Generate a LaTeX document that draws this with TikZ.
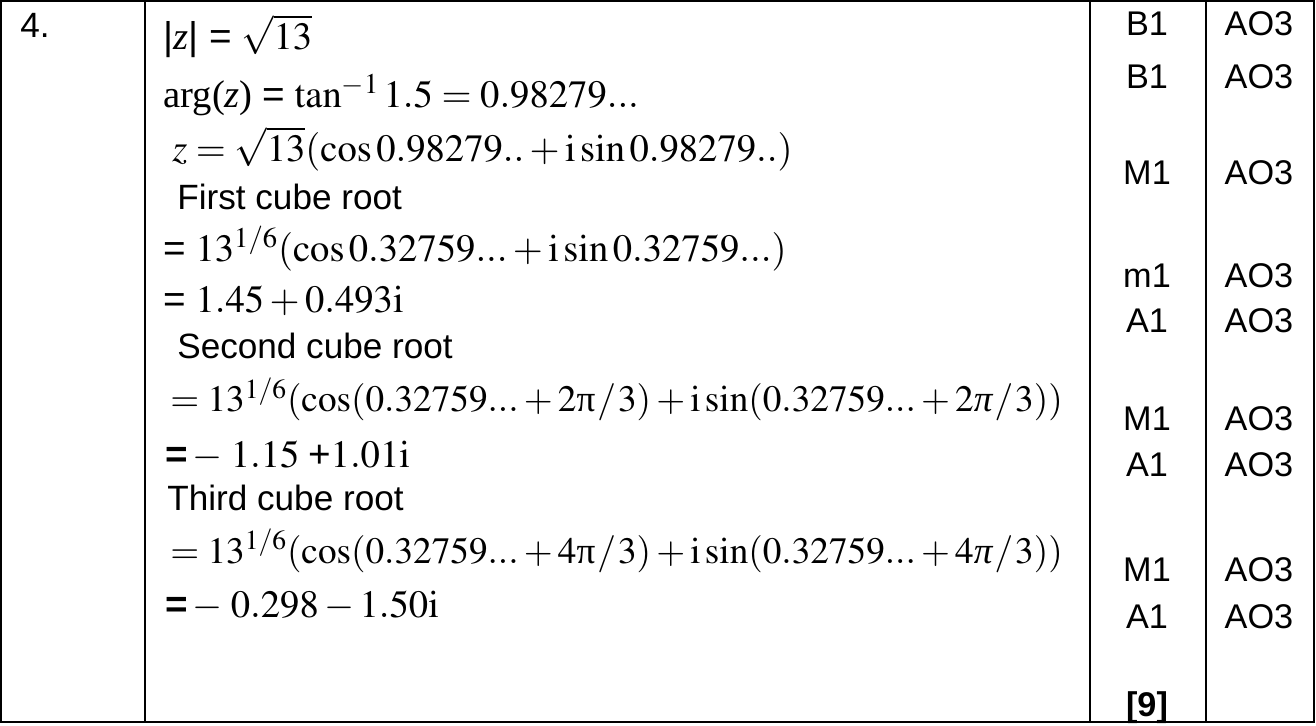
\documentclass[tikz,border=0pt]{standalone}
\usepackage{mathptmx}
\usepackage[no-math]{fontspec}
\setmainfont{Liberation Serif}
\newfontfamily\hv{Liberation Sans}
\usetikzlibrary{positioning}

\begin{document}
\begin{tikzpicture}[x=0.02cm,y=-0.02cm,
	mline/.style={anchor=base west,inner sep=0pt,font=\fontsize{22}{26}\selectfont},
	mlong/.style={mline,font=\fontsize{21.2}{25}\selectfont},
	sline/.style={anchor=base west,inner sep=0pt,font=\hv\fontsize{20}{24}\selectfont},
	markcell/.style={anchor=base,inner sep=0pt,font=\hv\fontsize{19.5}{23}\selectfont}]
	\useasboundingbox (0,0) rectangle (1316,726);
	\draw[line width=0.9pt] (1,1) rectangle (1314,722);
	\draw[line width=0.9pt] (145,1) -- (145,722);
	\draw[line width=0.8pt] (1090,1) -- (1090,722);
	\draw[line width=0.8pt] (1206,1) -- (1206,722);
	\node[sline] (qnum) at (20,38) {4.};
	\node[mline] (modz) at (163,50) {{\hv|}\textit{z}{\hv| =} $\sqrt{13}$};
	\node[mline] (argz) at (163,108) {arg(\textit{z}) {\hv=} $\tan^{-1}1.5=0.98279...$};
	\node[mline] (polar) at (172,162) {$z=\sqrt{13}(\cos 0.98279..+\mathrm{i}\sin 0.98279..)$};
	\node[sline] (first) at (177,210) {First cube root};
	\node[mline] (rootAa) at (163,262) {{\hv=} $13^{1/6}(\cos 0.32759...+\mathrm{i}\sin 0.32759...)$};
	\node[mline] (rootAb) at (163,313) {{\hv=} $1.45+0.493\mathrm{i}$};
	\node[sline] (second) at (177,358) {Second cube root};
	\node[mlong] (rootBa) at (170,412) {$=13^{1/6}(\cos(0.32759...+2\mbox{π}\mkern1mu/\mkern1mu3)+\mathrm{i}\sin(0.32759...+2\mbox{\itshape π}\mkern1mu/\mkern1mu3))$};
	\node[mline] (rootBb) at (165,467) {{\hv\bfseries=}$\,-\;1.15\;${\hv+}$1.01\mathrm{i}$};
	\node[sline] (third) at (167,510) {Third cube root};
	\node[mlong] (rootCa) at (170,563) {$=13^{1/6}(\cos(0.32759...+4\mbox{π}\mkern1mu/\mkern1mu3)+\mathrm{i}\sin(0.32759...+4\mbox{\itshape π}\mkern1mu/\mkern1mu3))$};
	\node[mline] (rootCb) at (165,617) {{\hv\bfseries=}$\,-\;0.298-1.50\mathrm{i}$};
	\foreach \m/\yy [count=\k] in {B1/36,B1/89,M1/185,m1/288,A1/333,M1/430,A1/476,M1/581,A1/628} {
		\node[markcell] (mk\k) at (1147,\yy) {\m};
		\node[markcell] (ao\k) at (1259,\yy) {AO3};
	}
	\node[markcell,font=\hv\bfseries\fontsize{19.5}{23}\selectfont] (total) at (1147,716) {[9]};
\end{tikzpicture}
\end{document}
